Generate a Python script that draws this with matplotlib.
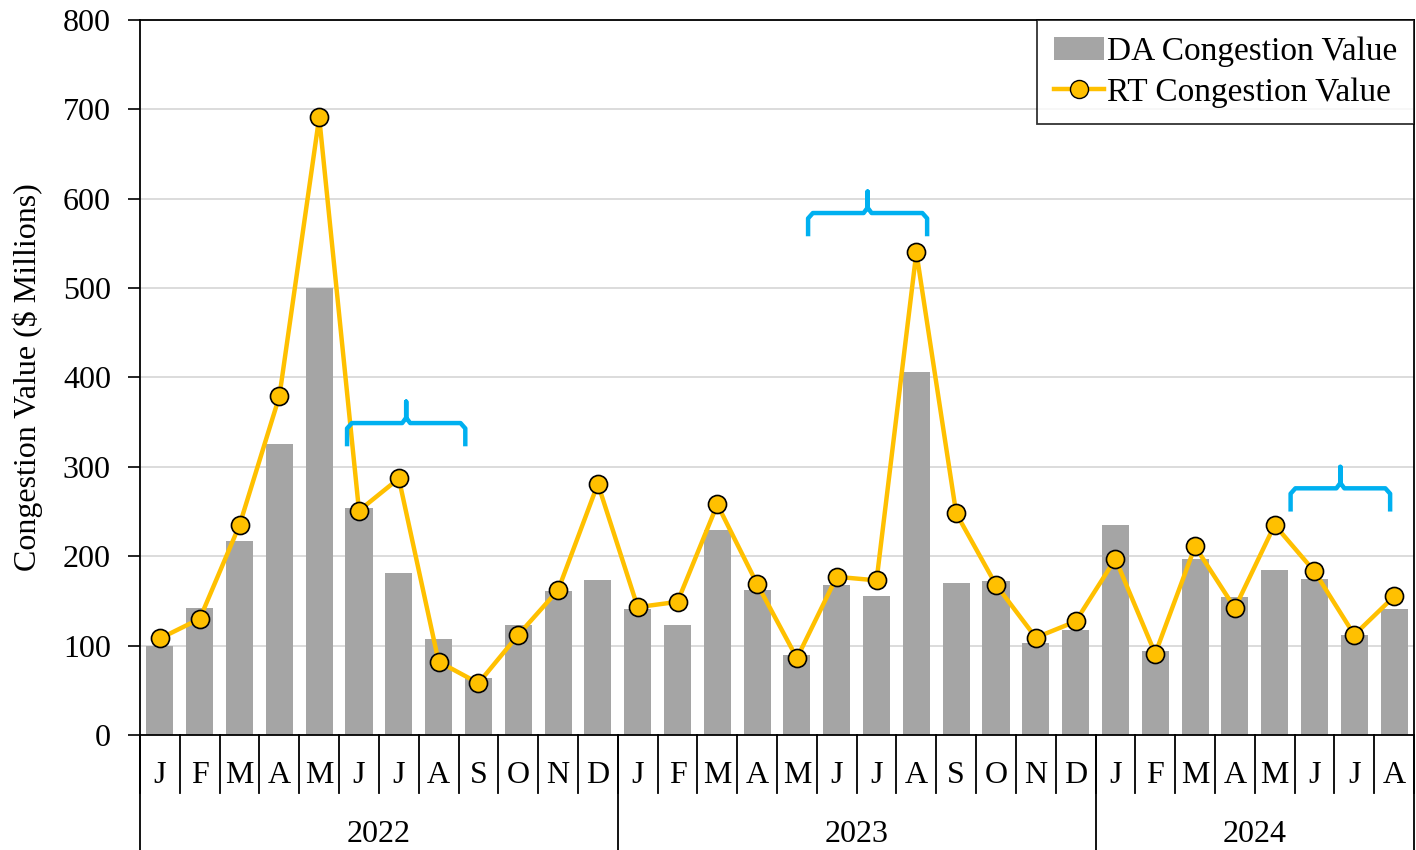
import numpy as np
import matplotlib.pyplot as plt
from matplotlib.patches import Patch
from matplotlib.lines import Line2D
from matplotlib.transforms import blended_transform_factory

plt.rcParams['font.family'] = ['Liberation Serif', 'DejaVu Serif']

months = ["J", "F", "M", "A", "M", "J", "J", "A", "S", "O", "N", "D",
          "J", "F", "M", "A", "M", "J", "J", "A", "S", "O", "N", "D",
          "J", "F", "M", "A", "M", "J", "J", "A"]
years = ["2022", "2023", "2024"]
year_counts = [12, 12, 8]

da_value = [100, 142, 217, 326, 500, 254, 181, 107, 64, 123, 161, 173,
            141, 123, 229, 162, 89, 168, 156, 406, 170, 172, 103, 117,
            235, 94, 197, 154, 185, 175, 112, 141]
rt_value = [108, 130, 235, 379, 691, 251, 287, 82, 58, 112, 162, 281,
            143, 149, 258, 169, 86, 177, 173, 540, 248, 168, 109, 127,
            197, 91, 211, 142, 235, 183, 112, 155]

# brace annotations: (start, end, level) in data units
braces = [(4.7, 7.67, 349), (16.28, 19.27, 584), (28.4, 30.9, 276)]

fig = plt.figure(figsize=(14.16, 8.5), dpi=100)
ax = fig.add_axes([0.0989, 0.1353, 0.8997, 0.8412])

x = np.arange(len(months))
ax.bar(x, da_value, width=0.68, color="#A5A5A5", zorder=2)
ax.plot(x, rt_value, color="#FFC000", lw=3.2, marker="o", markersize=13,
        markerfacecolor="#FFC000", markeredgecolor="black", markeredgewidth=1.2,
        zorder=3)

ax.set_xlim(-0.5, len(months) - 0.5)
ax.set_ylim(0, 800)
ax.set_yticks(range(0, 801, 100))
ax.yaxis.grid(True, color="#D9D9D9", lw=1.3, zorder=0)
ax.set_axisbelow(True)
ax.tick_params(axis="y", labelsize=23, length=9, width=1.2, direction="out", pad=12)
ax.set_xticks([])
for s in ax.spines.values():
    s.set_color("black")
    s.set_linewidth(1.3)

ax.set_ylabel("Congestion Value ($ Millions)", fontsize=23, labelpad=14)

# category axis: month labels, separators and year labels
tr = blended_transform_factory(ax.transData, ax.transAxes)
for i, m in enumerate(months):
    ax.text(i, -0.056, m, transform=tr, ha="center", va="center", fontsize=23)
for i in range(len(months) + 1):
    ax.plot([i - 0.5, i - 0.5], [0, -0.081], transform=tr, color="black",
            lw=1.3, clip_on=False)
start = 0
for yr, n in zip(years, year_counts):
    ax.plot([start - 0.5, start - 0.5], [0, -0.2], transform=tr, color="black",
            lw=1.3, clip_on=False)
    ax.text(start + (n - 1) / 2, -0.139, yr, transform=tr, ha="center",
            va="center", fontsize=23)
    start += n
ax.plot([start - 0.5, start - 0.5], [0, -0.2], transform=tr, color="black",
        lw=1.3, clip_on=False)

# curly braces
for x0, x1, lev in braces:
    xm = (x0 + x1) / 2
    bx = [x0, x0, x0 + 0.12, xm - 0.1, xm, xm, xm, xm + 0.1, x1 - 0.12, x1, x1]
    by = [lev - 26, lev - 6, lev, lev, lev + 6, lev + 24, lev + 6, lev, lev, lev - 6, lev - 26]
    ax.plot(bx, by, color="#00B0F0", lw=3.2, solid_capstyle="butt",
            solid_joinstyle="round", zorder=4)

handles = [Patch(facecolor="#A5A5A5", edgecolor="none"),
           Line2D([0], [0], color="#FFC000", lw=3.2, marker="o", markersize=13,
                  markerfacecolor="#FFC000", markeredgecolor="black")]
leg = ax.legend(handles, ["DA Congestion Value", "RT Congestion Value"],
                loc="upper right", fontsize=24, frameon=True, fancybox=False,
                edgecolor="black", handlelength=1.5, handletextpad=0.1,
                borderaxespad=0, labelspacing=0.3, borderpad=0.5)
leg.get_frame().set_linewidth(1.3)
leg.set_zorder(5)

fig.savefig("out.png", dpi=100)
